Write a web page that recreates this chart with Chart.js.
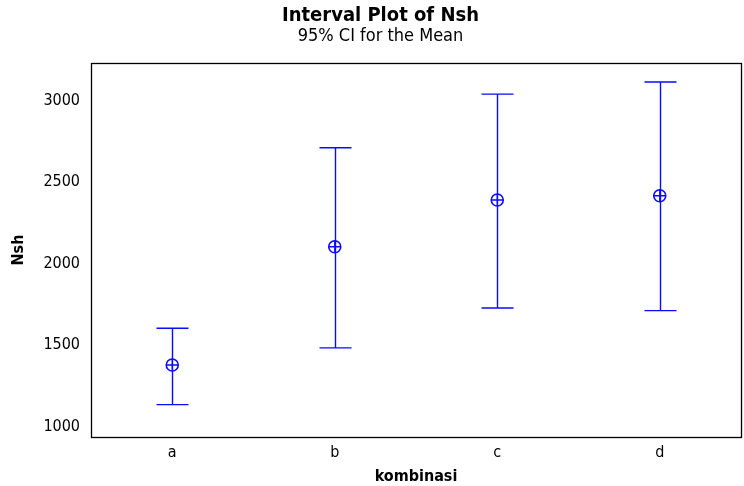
<!DOCTYPE html>
<html>
<head>
<meta charset="utf-8">
<script src="https://cdn.jsdelivr.net/npm/chart.js@4/dist/chart.umd.min.js"></script>
<style>
  html, body { margin: 0; padding: 0; background: #ffffff; }
  #wrap { width: 744px; height: 486px; position: relative; }
</style>
</head>
<body>
<div id="wrap"><canvas id="c" width="744" height="486"></canvas></div>
<script>
// Interval plot: mean of Nsh per kombinasi with 95% CI bars
const categories = ['a', 'b', 'c', 'd'];
const means = [1378, 2104, 2391, 2417];
const ciLower = [1135, 1483, 1728, 1712];
const ciUpper = [1604, 2712, 3041, 3115];
const yTicks = [1000, 1500, 2000, 2500, 3000];

const BLUE = '#0a0aff';
const FONT = '"DejaVu Sans Condensed", "DejaVu Sans", sans-serif';

// draws the CI whiskers and caps through the chart scales
const intervalBars = {
  id: 'intervalBars',
  afterDatasetsDraw(chart) {
    const { ctx, scales: { x, y } } = chart;
    const capHalf = 16;
    ctx.save();
    ctx.strokeStyle = BLUE;
    ctx.lineWidth = 1.4;
    categories.forEach((cat, i) => {
      const px = Math.round(x.getPixelForValue(i)) + 0.5;
      const yTop = y.getPixelForValue(ciUpper[i]);
      const yBot = y.getPixelForValue(ciLower[i]);
      ctx.beginPath();
      ctx.moveTo(px, yTop); ctx.lineTo(px, yBot);
      ctx.moveTo(px - capHalf, yTop); ctx.lineTo(px + capHalf, yTop);
      ctx.moveTo(px - capHalf, yBot); ctx.lineTo(px + capHalf, yBot);
      ctx.stroke();
    });
    ctx.restore();
  }
};

// black frame around the plotting area
const frame = {
  id: 'frame',
  afterDraw(chart) {
    const { ctx, chartArea: a } = chart;
    ctx.save();
    ctx.strokeStyle = '#000';
    ctx.lineWidth = 1.3;
    ctx.strokeRect(Math.round(a.left) + 0.5, Math.round(a.top) + 0.5,
                   Math.round(a.right - a.left), Math.round(a.bottom - a.top));
    ctx.restore();
  }
};

const meanPoints = means.map((m, i) => ({ x: i, y: m }));

new Chart(document.getElementById('c'), {
  type: 'scatter',
  data: {
    datasets: [
      { data: meanPoints, pointStyle: 'circle', pointRadius: 6, borderColor: BLUE,
        backgroundColor: 'rgba(0,0,0,0)', borderWidth: 1.6, showLine: false },
      { data: meanPoints, pointStyle: 'cross', pointRadius: 6, borderColor: BLUE,
        borderWidth: 1.3, showLine: false }
    ]
  },
  options: {
    responsive: false,
    animation: false,
    events: [],
    layout: { autoPadding: false, padding: { left: 20, right: 3, top: 0, bottom: 0 } },
    plugins: {
      legend: { display: false },
      tooltip: { enabled: false },
      title: {
        display: true, text: 'Interval Plot of Nsh', color: '#000',
        font: { family: FONT, size: 20, weight: 'bold' },
        padding: { top: 4, bottom: -2 }
      },
      subtitle: {
        display: true, text: '95% CI for the Mean', color: '#000',
        font: { family: FONT, size: 18 },
        padding: { top: 0, bottom: 15.4 }
      }
    },
    scales: {
      x: {
        type: 'linear', min: -0.5, max: 3.5,
        afterBuildTicks(s) { s.ticks = categories.map((c, i) => ({ value: i })); },
        afterFit(s) { s.height = 49; s.paddingLeft = 0; s.paddingRight = 0; },
        ticks: {
          color: '#000', font: { family: FONT, size: 16 }, padding: 1,
          callback: (v) => categories[v]
        },
        grid: { display: false, drawOnChartArea: false, drawTicks: true, tickLength: 5, color: '#000' },
        border: { display: true, color: '#000' },
        title: { display: true, text: 'kombinasi', color: '#000',
                 font: { family: FONT, size: 16, weight: 'bold' }, padding: { top: -3, bottom: 0 } }
      },
      y: {
        min: 936, max: 3232,
        afterBuildTicks(s) { s.ticks = yTicks.map(v => ({ value: v })); },
        afterFit(s) { s.width = 71; },
        ticks: { color: '#000', font: { family: FONT, size: 16 }, padding: 6,
                 callback: (v) => String(v) },
        grid: { display: false, drawOnChartArea: false, drawTicks: true, tickLength: 5, color: '#000' },
        border: { display: true, color: '#000' },
        title: { display: true, text: 'Nsh', color: '#000',
                 font: { family: FONT, size: 16, weight: 'bold' }, padding: { top: -11, bottom: 0 } }
      }
    }
  },
  plugins: [intervalBars, frame]
});
</script>
</body>
</html>
